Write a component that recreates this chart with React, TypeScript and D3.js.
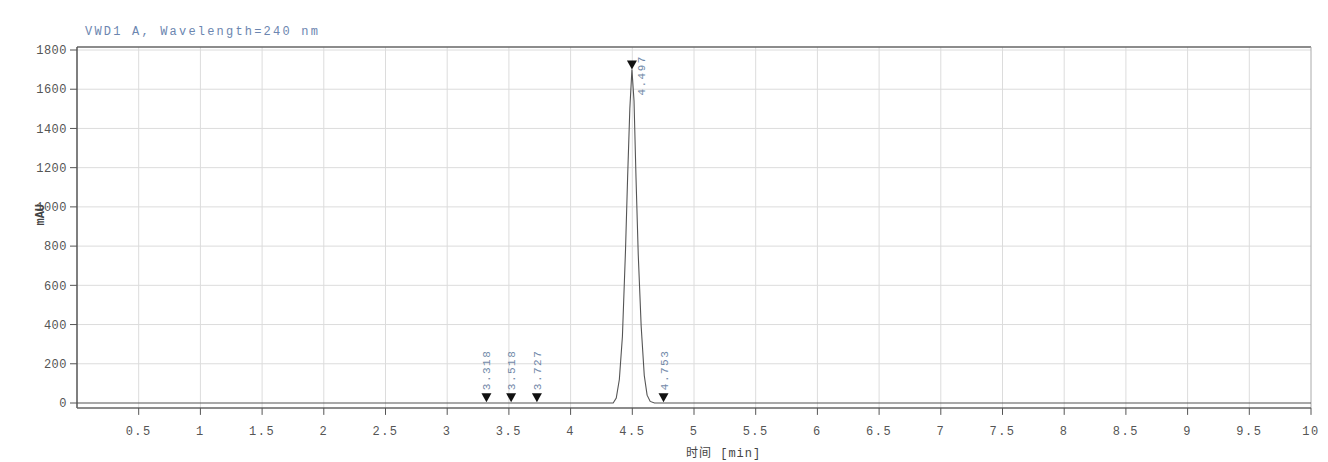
import React from "react";
import * as d3 from "d3";

const title = "VWD1 A, Wavelength=240 nm";
const yAxisLabel = "mAU";
const xAxisLabel = "时间 [min]";

const xTickValues = [0.5, 1, 1.5, 2, 2.5, 3, 3.5, 4, 4.5, 5, 5.5, 6, 6.5, 7, 7.5, 8, 8.5, 9, 9.5, 10];
const xTickLabels = ["0.5", "1", "1.5", "2", "2.5", "3", "3.5", "4", "4.5", "5", "5.5", "6", "6.5", "7", "7.5", "8", "8.5", "9", "9.5", "10"];
const yTickValues = [0, 200, 400, 600, 800, 1000, 1200, 1400, 1600, 1800];

// chromatogram trace (time in min, signal in mAU)
const traceTime = [0, 3.3, 4.3, 4.345, 4.37, 4.395, 4.42, 4.445, 4.462, 4.48, 4.497, 4.514, 4.53, 4.548, 4.572, 4.597, 4.62, 4.645, 4.68, 10];
const traceSignal = [0, 0, 0, 0, 25, 120, 340, 780, 1150, 1500, 1700, 1540, 1150, 760, 390, 140, 40, 8, 0, 0];

// integration markers
const peakTimes = [3.318, 3.518, 3.727, 4.497, 4.753];
const peakHeights = [4, 4, 4, 1700, 4];
const peakLabels = ["3.318", "3.518", "3.727", "4.497", "4.753"];

const W = 1328;
const H = 462;

export default function App() {
  const x = d3.scaleLinear().domain([0, 10]).range([77, 1311]);
  const y = d3.scaleLinear().domain([0, 1800]).range([403, 50]);
  const yMin = -25;
  const yMax = 1815;
  const left = x(0);
  const right = x(10);
  const top = y(yMax);
  const bottom = y(yMin);

  const line = d3
    .line<number>()
    .x((_, i) => x(traceTime[i]))
    .y((d) => y(d));

  const mono = "'Liberation Mono', 'DejaVu Sans Mono', monospace";
  const labelColor = "#555";
  const peakLabelColor = "#7088a8";

  return (
    <svg
      width={W}
      height={H}
      style={{ position: "absolute", left: 0, top: 0, background: "#fff" }}
      fontFamily={mono}
    >
      <rect x={0} y={0} width={W} height={H} fill="#fff" />
      {/* title */}
      <text x={85} y={35} fontSize={12} fill="#6c86b0" letterSpacing={2.2}>
        {title}
      </text>

      {/* grid */}
      {xTickValues.filter((v) => v < 10).map((v) => (
        <line key={"gx" + v} x1={x(v)} x2={x(v)} y1={top} y2={bottom} stroke="#dcdcdc" strokeWidth={1} />
      ))}
      {yTickValues.filter((v) => v > 0).map((v) => (
        <line key={"gy" + v} x1={left} x2={right} y1={y(v)} y2={y(v)} stroke="#dcdcdc" strokeWidth={1} />
      ))}

      {/* frame */}
      <line x1={left} x2={right} y1={top} y2={top} stroke="#666" strokeWidth={1.5} />
      <line x1={right} x2={right} y1={top} y2={bottom} stroke="#aaa" strokeWidth={1} />
      <line x1={left} x2={left} y1={top} y2={bottom} stroke="#555" strokeWidth={1.5} />
      <line x1={left} x2={right} y1={bottom} y2={bottom} stroke="#666" strokeWidth={1.5} />

      {/* y ticks */}
      {yTickValues.map((v) => (
        <g key={"yt" + v}>
          <line x1={left - 7} x2={left} y1={y(v)} y2={y(v)} stroke="#555" strokeWidth={1} />
          <text x={left - 10} y={y(v)} dy="0.35em" textAnchor="end" fontSize={12} fill={labelColor} letterSpacing={0.5}>
            {v}
          </text>
        </g>
      ))}
      <text
        transform={`translate(44,${y(960)}) rotate(-90)`}
        textAnchor="middle"
        fontSize={12}
        fill="#444"
        fontWeight="bold"
      >
        {yAxisLabel}
      </text>

      {/* x ticks */}
      {xTickValues.map((v, i) => (
        <g key={"xt" + v}>
          <line x1={x(v)} x2={x(v)} y1={bottom} y2={bottom + 7} stroke="#555" strokeWidth={1} />
          <text x={x(v)} y={bottom + 27} textAnchor="middle" fontSize={12} fill={labelColor} letterSpacing={1.5}>
            {xTickLabels[i]}
          </text>
        </g>
      ))}
      <text x={686} y={457} fontSize={12} fill="#444" letterSpacing={1}>
        <tspan fontFamily="'Noto Sans CJK SC', sans-serif">{xAxisLabel.slice(0, 2)}</tspan>
        <tspan>{xAxisLabel.slice(2)}</tspan>
      </text>

      {/* trace */}
      <path d={line(traceSignal) || ""} fill="none" stroke="#555" strokeWidth={1.1} />

      {/* peak markers */}
      {peakTimes.map((t, i) => {
        const px = x(t);
        const py = y(peakHeights[i]);
        const isMain = peakHeights[i] > 1000;
        const lx = isMain ? px + 13 : px + 4;
        const ly = isMain ? py + 26 : py - 12;
        return (
          <g key={"pk" + i}>
            <path d={`M${px - 5},${py - 9} L${px + 5},${py - 9} L${px},${py} Z`} fill="#111" />
            <text
              transform={`translate(${lx},${ly}) rotate(-90)`}
              fontSize={11}
              fill={peakLabelColor}
              letterSpacing={1.5}
            >
              {peakLabels[i]}
            </text>
          </g>
        );
      })}
    </svg>
  );
}
